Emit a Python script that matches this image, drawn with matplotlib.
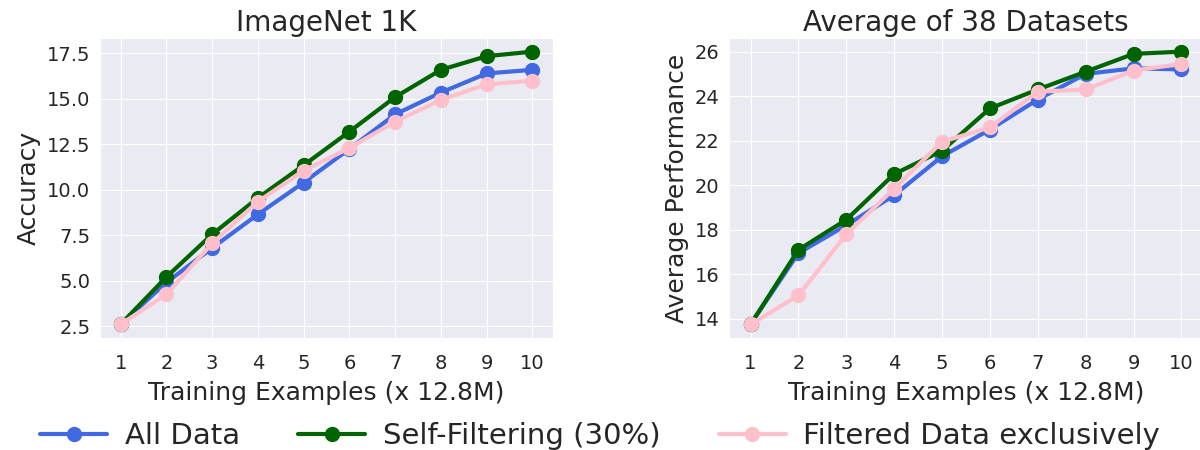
import numpy as np
import matplotlib
matplotlib.use("Agg")
import matplotlib.pyplot as plt
import seaborn as sns

sns.set_style("darkgrid")

steps = [1, 2, 3, 4, 5, 6, 7, 8, 9, 10]

# ImageNet 1K accuracy
in1k_all = [2.6, 4.9, 6.8, 8.65, 10.4, 12.25, 14.15, 15.35, 16.4, 16.6]
in1k_self = [2.6, 5.2, 7.55, 9.55, 11.35, 13.2, 15.1, 16.6, 17.35, 17.6]
in1k_filt = [2.6, 4.25, 7.05, 9.35, 11.05, 12.3, 13.75, 14.95, 15.8, 16.0]

# Average over 38 datasets
avg_all = [13.75, 16.95, 18.2, 19.55, 21.3, 22.5, 23.85, 25.0, 25.25, 25.2]
avg_self = [13.75, 17.1, 18.45, 20.5, 21.55, 23.45, 24.3, 25.1, 25.9, 26.0]
avg_filt = [13.75, 15.05, 17.8, 19.85, 21.95, 22.6, 24.2, 24.3, 25.15, 25.45]

labels = ['All Data', 'Self-Filtering (30%)', 'Filtered Data exclusively']
colors = ['royalblue', 'darkgreen', 'pink']

fig = plt.figure(figsize=(12, 4.5), dpi=100)
ax1 = fig.add_axes([100/1200, 1-338/450, 453/1200, 300/450])
ax2 = fig.add_axes([729/1200, 1-338/450, 474/1200, 300/450])

for ax, series, title, ylabel in [
        (ax1, [in1k_all, in1k_self, in1k_filt], 'ImageNet 1K', 'Accuracy'),
        (ax2, [avg_all, avg_self, avg_filt], 'Average of 38 Datasets', 'Average Performance')]:
    for vals, lab, col in zip(series, labels, colors):
        ax.plot(steps, vals, marker='o', color=col, linewidth=3, markersize=10, label=lab)
    ax.set_title(title, fontsize=20, pad=5)
    ax.set_ylabel(ylabel, fontsize=18, labelpad=4)
    ax.set_xlabel('Training Examples (x 12.8M)', fontsize=18, labelpad=6)
    ax.set_xticks(steps)
    ax.tick_params(axis='both', labelsize=14)
    ax.tick_params(axis='x', pad=8)

ax2.set_yticks([14, 16, 18, 20, 22, 24, 26])

handles, labs = ax1.get_legend_handles_labels()
fig.legend(handles, labs, loc='lower center', ncol=3, fontsize=21, frameon=False,
           bbox_to_anchor=(0.5, -0.058), columnspacing=2.0, handlelength=2.3,
           handletextpad=0.6)

fig.savefig('out.png', dpi=100)
